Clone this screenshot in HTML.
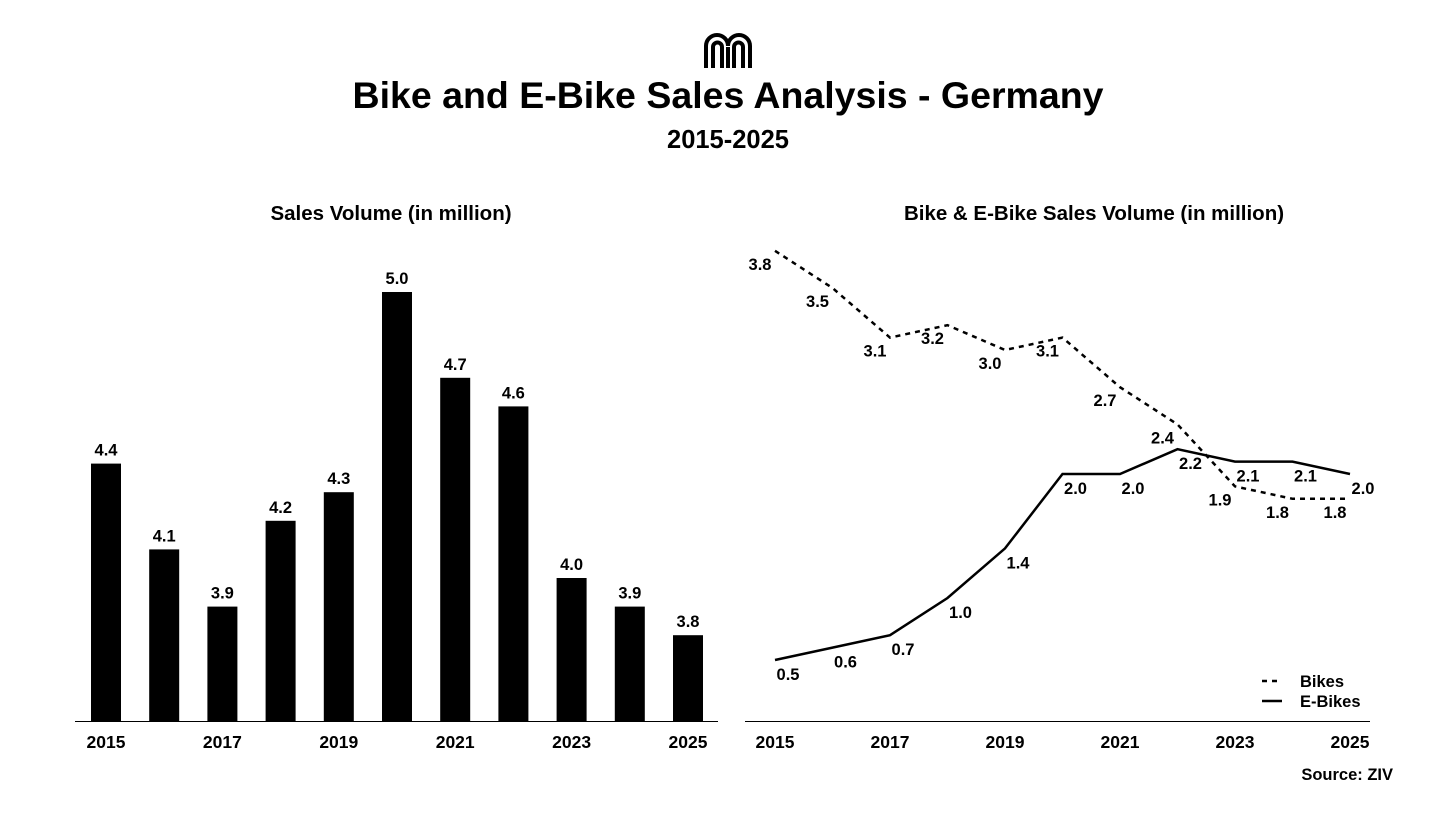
<!DOCTYPE html>
<html><head><meta charset="utf-8"><style>
body{margin:0;background:#fff;width:1456px;height:819px;overflow:hidden;font-family:"Liberation Sans",Arial,sans-serif;}
svg text{font-family:"Liberation Sans",Arial,sans-serif;font-weight:bold;fill:#000;}
</style></head><body>
<svg width="1456" height="819">
<g fill="none" stroke="#000" stroke-width="4">
<path d="M706 68 V46 a11 11 0 0 1 22 0 a11 11 0 0 1 22 0 V68"/>
<path d="M713 68 V47 a4.5 4.5 0 0 1 9 0 V68 M734 68 V47 a4.5 4.5 0 0 1 9 0 V68"/>
<path d="M728 68 V47"/>
</g>
<text x="728" y="108" text-anchor="middle" font-size="37.5">Bike and E-Bike Sales Analysis - Germany</text>
<text x="728" y="148" text-anchor="middle" font-size="25.5">2015-2025</text>
<text x="391" y="220" text-anchor="middle" font-size="20.5">Sales Volume (in million)</text>
<text x="1094" y="220" text-anchor="middle" font-size="20.5">Bike &amp; E-Bike Sales Volume (in million)</text>
<g id="bars"></g>
<g id="lines"></g>
<line x1="75" x2="718" y1="721.5" y2="721.5" stroke="#000" stroke-width="1"/>
<line x1="745" x2="1370" y1="721.5" y2="721.5" stroke="#000" stroke-width="1"/>
<g>
<line x1="1262" x2="1282" y1="681" y2="681" stroke="#000" stroke-width="2.5" stroke-dasharray="5 5"/>
<text x="1300" y="687" font-size="16.5">Bikes</text>
<line x1="1262" x2="1282" y1="701" y2="701" stroke="#000" stroke-width="2.5"/>
<text x="1300" y="707" font-size="16.5">E-Bikes</text>
</g>
<text x="1393" y="780" text-anchor="end" font-size="16.5">Source: ZIV</text>
</svg>
<script>
const years=[2015,2016,2017,2018,2019,2020,2021,2022,2023,2024,2025];
const totalSales=[4.4,4.1,3.9,4.2,4.3,5.0,4.7,4.6,4.0,3.9,3.8];
const bikeSales=[3.8,3.5,3.1,3.2,3.0,3.1,2.7,2.4,1.9,1.8,1.8];
const ebikeSales=[0.5,0.6,0.7,1.0,1.4,2.0,2.0,2.2,2.1,2.1,2.0];
const tickYears=[2015,2017,2019,2021,2023,2025];
const NS="http://www.w3.org/2000/svg";
function mk(tag,attrs,parent){const e=document.createElementNS(NS,tag);for(const k in attrs)e.setAttribute(k,attrs[k]);parent.appendChild(e);return e;}
const bx=y=>106+(y-2015)*58.2;
const by=v=>721-(v-3.5)*286;
const gb=document.getElementById('bars');
years.forEach((yr,i)=>{
 const r=mk('rect',{x:bx(yr)-15,y:by(totalSales[i]),width:30,height:721-by(totalSales[i]),fill:'#000'},gb);
 
 
 const t=mk('text',{x:bx(yr),y:by(totalSales[i])-8,'text-anchor':'middle','font-size':16.5},gb);
 t.textContent=totalSales[i].toFixed(1);
 
 
});
tickYears.forEach(yr=>{
 const t=mk('text',{x:bx(yr),y:748,'text-anchor':'middle','font-size':17.5},gb);
 t.textContent=yr;
 
 
});
const lx=y=>775+(y-2015)*57.5;
const ly=v=>722-v*124;
const gl=document.getElementById('lines');
function series(vals,dash,name,dx,dy){
 const d=vals.map((v,i)=>(i?'L':'M')+lx(years[i])+' '+ly(v)).join(' ');
 const p=mk('path',{d:d,fill:'none',stroke:'#000','stroke-width':2.5},gl);
 if(dash)p.setAttribute('stroke-dasharray','5 5');
 
 
 vals.forEach((v,i)=>{
  const t=mk('text',{x:lx(years[i])+dx,y:ly(v)+dy+6,'text-anchor':'middle','font-size':16.5},gl);
  t.textContent=v.toFixed(1);
  
  
 });
}
series(bikeSales,true,'bikes',-15,13);
series(ebikeSales,false,'ebikes',13,14);
tickYears.forEach(yr=>{
 const t=mk('text',{x:lx(yr),y:748,'text-anchor':'middle','font-size':17.5},gl);
 t.textContent=yr;
 
 
});
</script>
</body></html>
